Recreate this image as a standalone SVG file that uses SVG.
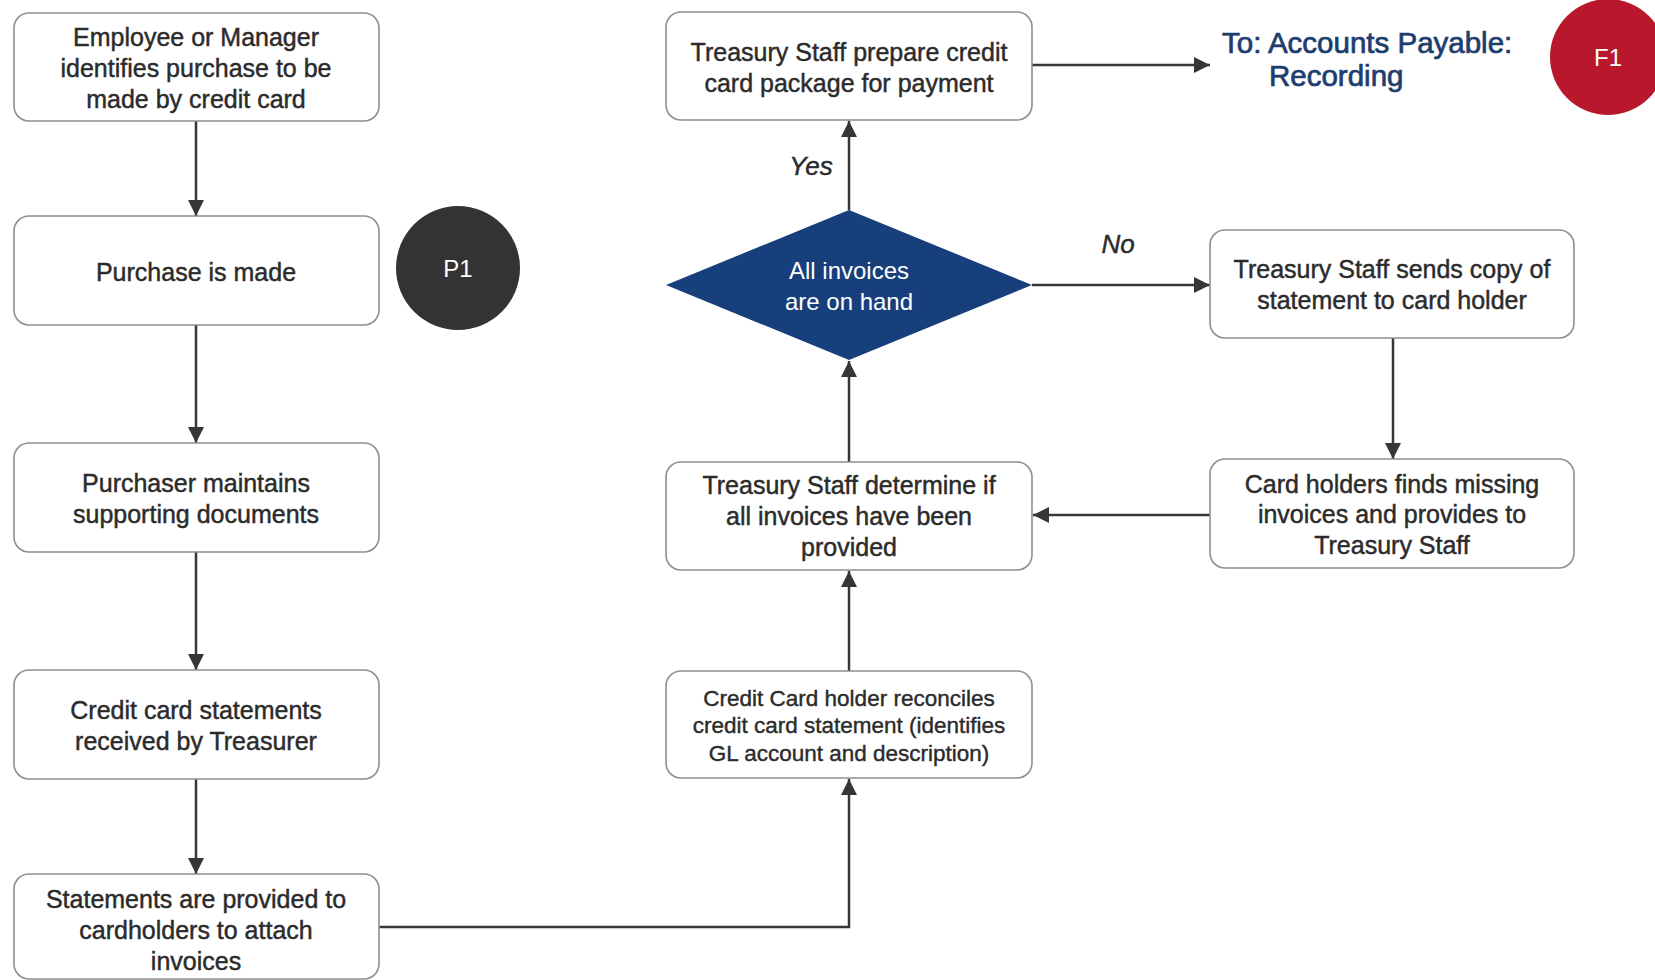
<svg xmlns="http://www.w3.org/2000/svg" width="1655" height="980" viewBox="0 0 1655 980">
  <defs>
    <style>
      .box { fill: #ffffff; stroke: #8f8f8f; stroke-width: 1.6; }
      .t { font-family: "Liberation Sans", Arial, sans-serif; font-size: 25px; fill: #2b2b2b; stroke: #2b2b2b; stroke-width: 0.45; text-anchor: middle; }
      .ts { font-family: "Liberation Sans", Arial, sans-serif; font-size: 22.5px; fill: #2b2b2b; stroke: #2b2b2b; stroke-width: 0.4; text-anchor: middle; }
      .tw { font-family: "Liberation Sans", Arial, sans-serif; font-size: 24px; fill: #ffffff; text-anchor: middle; }
      .lbl { font-family: "Liberation Sans", Arial, sans-serif; font-size: 26px; font-style: italic; fill: #2b2b2b; stroke: #2b2b2b; stroke-width: 0.45; text-anchor: middle; }
      .link { font-family: "Liberation Sans", Arial, sans-serif; font-size: 29.5px; fill: #1d3d6e; stroke: #1d3d6e; stroke-width: 0.7; }
      .conn { fill: none; stroke: #363636; stroke-width: 2.5; marker-end: url(#arrow); }
    </style>
    <marker id="arrow" viewBox="0 0 16 16" refX="16" refY="8" markerWidth="16" markerHeight="16" markerUnits="userSpaceOnUse" orient="auto">
      <path d="M0,0 L16,8 L0,16 Z" fill="#363636"/>
    </marker>
  </defs>

  <rect width="1655" height="980" fill="#ffffff"/>

  <!-- connectors -->
  <g id="connectors">
    <path class="conn" d="M196,121 L196,216"/>
    <path class="conn" d="M196,325 L196,443"/>
    <path class="conn" d="M196,552 L196,670"/>
    <path class="conn" d="M196,779 L196,874"/>
    <path class="conn" d="M379,927 L849,927 L849,779"/>
    <path class="conn" d="M849,671 L849,571"/>
    <path class="conn" d="M849,462 L849,361"/>
    <path class="conn" d="M849,210 L849,121"/>
    <path class="conn" d="M1032,65 L1210,65"/>
    <path class="conn" d="M1032,285 L1210,285"/>
    <path class="conn" d="M1393,338 L1393,459"/>
    <path class="conn" d="M1210,515 L1033,515"/>
    <text class="lbl" x="811" y="175">Yes</text>
    <text class="lbl" x="1118" y="253">No</text>
  </g>

  <!-- left column -->
  <g id="identify">
    <rect class="box" x="14" y="13" width="365" height="108" rx="15"/>
    <text class="t" x="196" y="46">Employee or Manager</text>
    <text class="t" x="196" y="77">identifies purchase to be</text>
    <text class="t" x="196" y="108">made by credit card</text>
  </g>
  <g id="purchase">
    <rect class="box" x="14" y="216" width="365" height="109" rx="15"/>
    <text class="t" x="196" y="281">Purchase is made</text>
  </g>
  <g id="p1">
    <circle cx="458" cy="268" r="62" fill="#333333"/>
    <text class="tw" x="458" y="277">P1</text>
  </g>
  <g id="maintain">
    <rect class="box" x="14" y="443" width="365" height="109" rx="15"/>
    <text class="t" x="196" y="492">Purchaser maintains</text>
    <text class="t" x="196" y="523">supporting documents</text>
  </g>
  <g id="received">
    <rect class="box" x="14" y="670" width="365" height="109" rx="15"/>
    <text class="t" x="196" y="719">Credit card statements</text>
    <text class="t" x="196" y="750">received by Treasurer</text>
  </g>
  <g id="provided">
    <rect class="box" x="14" y="874" width="365" height="105" rx="15"/>
    <text class="t" x="196" y="908">Statements are provided to</text>
    <text class="t" x="196" y="939">cardholders to attach</text>
    <text class="t" x="196" y="970">invoices</text>
  </g>

  <!-- right column -->
  <g id="package">
    <rect class="box" x="666" y="12" width="366" height="108" rx="15"/>
    <text class="t" x="849" y="61">Treasury Staff prepare credit</text>
    <text class="t" x="849" y="92">card package for payment</text>
  </g>
  <g id="decision">
    <polygon points="666,285 849,210 1032,285 849,360" fill="#173f7b"/>
    <text class="tw" x="849" y="279">All invoices</text>
    <text class="tw" x="849" y="310">are on hand</text>
  </g>
  <g id="determine">
    <rect class="box" x="666" y="462" width="366" height="108" rx="15"/>
    <text class="t" x="849" y="494">Treasury Staff determine if</text>
    <text class="t" x="849" y="525">all invoices have been</text>
    <text class="t" x="849" y="556">provided</text>
  </g>
  <g id="reconcile">
    <rect class="box" x="666" y="671" width="366" height="107" rx="15"/>
    <text class="ts" x="849" y="706">Credit Card holder reconciles</text>
    <text class="ts" x="849" y="733">credit card statement (identifies</text>
    <text class="ts" x="849" y="761">GL account and description)</text>
  </g>
  <g id="sendcopy">
    <rect class="box" x="1210" y="230" width="364" height="108" rx="15"/>
    <text class="t" x="1392" y="278">Treasury Staff sends copy of</text>
    <text class="t" x="1392" y="309">statement to card holder</text>
  </g>
  <g id="missing">
    <rect class="box" x="1210" y="459" width="364" height="109" rx="15"/>
    <text class="t" x="1392" y="493">Card holders finds missing</text>
    <text class="t" x="1392" y="523">invoices and provides to</text>
    <text class="t" x="1392" y="554">Treasury Staff</text>
  </g>

  <!-- off-page reference -->
  <g id="to-ap">
    <text class="link" x="1222" y="53">To: Accounts Payable:</text>
    <text class="link" x="1269" y="86">Recording</text>
  </g>
  <g id="f1">
    <circle cx="1608" cy="57" r="58" fill="#b8172c"/>
    <text class="tw" x="1608" y="66">F1</text>
  </g>
</svg>
